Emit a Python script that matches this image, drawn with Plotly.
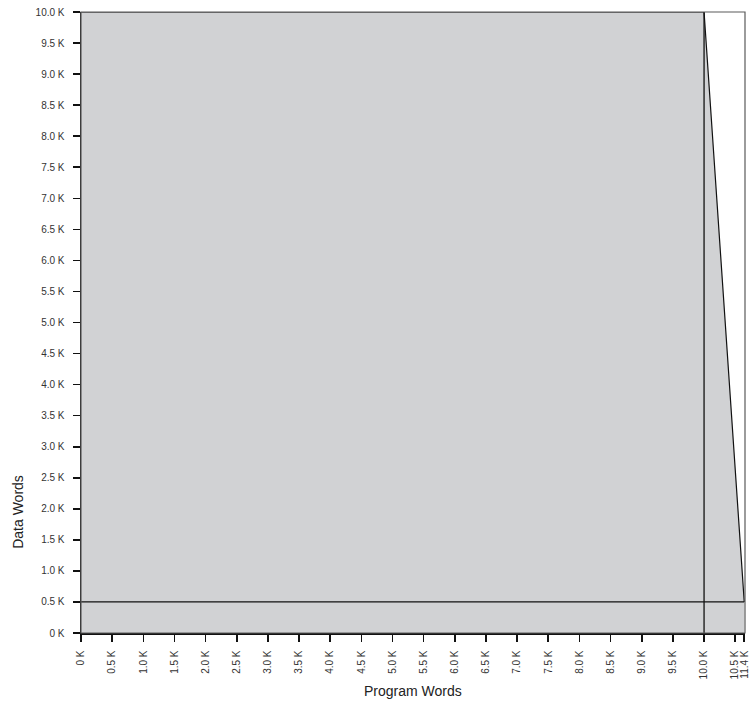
import plotly.graph_objects as go

# ---- data (thousands of words) ----
program_words = [0.0, 10.0, 11.4]          # boundary x values
data_words = [10.0, 10.0, 0.5]             # boundary y values
program_limit = 10.0                       # vertical reference line
data_limit = 0.5                           # horizontal reference line
x_tick_values = [i * 0.5 for i in range(22)] + [11.4]
x_tick_labels = ["0 K"] + [f"{v:.1f} K" for v in x_tick_values[1:-1]] + ["11.4 K"]
y_tick_values = [i * 0.5 for i in range(21)]
y_tick_labels = ["0 K"] + [f"{v:.1f} K" for v in y_tick_values[1:]]

X_MAX = 11.4

# axis scale: linear up to 10.5 K, compressed segment after (as in the original)
def axis_pos(v):
    if v <= 10.5:
        return v
    return 10.5 + (v - 10.5) * (0.145 / 0.9)

xs = [axis_pos(v) for v in program_words]
x_right = axis_pos(X_MAX) + 0.012

fill_color = "#d1d2d4"
line_color = "#111111"
text_color = "#333333"
font_family = "Liberation Sans, Arial, sans-serif"

fig = go.Figure()
fig.add_trace(go.Scatter(
    x=xs, y=data_words, mode="lines", fill="tozeroy",
    fillcolor=fill_color, line=dict(color=line_color, width=1.2),
    hoverinfo="skip", showlegend=False,
))

# reference lines
fig.add_shape(type="line", xref="x", yref="y",
              x0=axis_pos(program_limit), x1=axis_pos(program_limit), y0=0, y1=max(data_words),
              line=dict(color=line_color, width=1.3), layer="above")
fig.add_shape(type="line", xref="x", yref="y",
              x0=0, x1=axis_pos(X_MAX), y0=data_limit, y1=data_limit,
              line=dict(color=line_color, width=1.3), layer="above")
# frame (top and right)
fig.add_shape(type="rect", xref="paper", yref="paper", x0=0, x1=1, y0=0, y1=1,
              line=dict(color="#5a5a5a", width=1.2), layer="above")

fig.update_layout(
    width=752, height=702,
    margin=dict(l=81, r=7, t=12, b=69),
    paper_bgcolor="white", plot_bgcolor="white",
    font=dict(family=font_family, size=10, color=text_color),
    xaxis=dict(
        range=[0, x_right], tickmode="array",
        tickvals=[axis_pos(v) for v in x_tick_values], ticktext=x_tick_labels,
        tickangle=-90, ticks="outside", ticklen=7, tickwidth=1.6, tickcolor=line_color,
        showgrid=False, zeroline=False, showline=True, linecolor=line_color, linewidth=1.5,
        ticklabelstandoff=5, fixedrange=True, automargin=False,
    ),
    yaxis=dict(
        range=[0, 10.0], tickmode="array",
        tickvals=y_tick_values, ticktext=y_tick_labels,
        ticks="outside", ticklen=7, tickwidth=1.6, tickcolor=line_color,
        showgrid=False, zeroline=False, showline=True, linecolor=line_color, linewidth=1.5,
        ticklabelstandoff=6, fixedrange=True, automargin=False,
    ),
    annotations=[
        dict(text="Program Words", xref="paper", yref="paper", x=0.5, y=-0.093,
             xanchor="center", yanchor="middle", showarrow=False,
             font=dict(size=14, color="#222222", family=font_family)),
        dict(text="Data Words", xref="paper", yref="paper", x=-0.095, y=0.195,
             xanchor="center", yanchor="middle", showarrow=False, textangle=-90,
             font=dict(size=14, color="#222222", family=font_family)),
    ],
)

fig.write_html(
    "out.html",
    config={"displayModeBar": False, "staticPlot": True},
    post_script="document.body.style.margin='0';document.body.style.overflow='hidden';",
)
